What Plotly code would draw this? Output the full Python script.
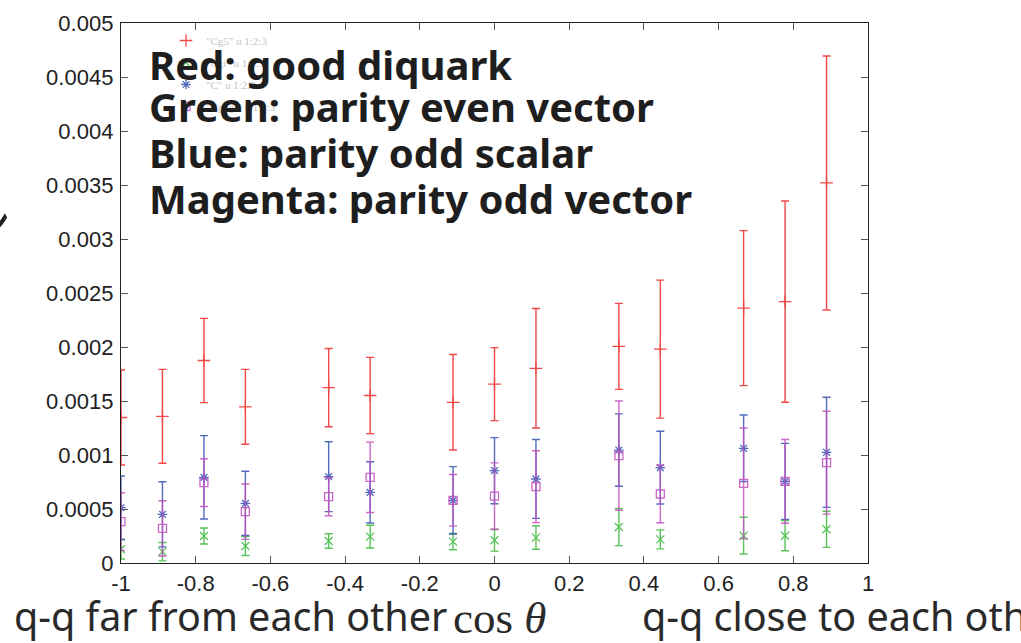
import plotly.graph_objects as go

# ---- data -------------------------------------------------------------
cos_theta = [-1.0, -0.889, -0.778, -0.667, -0.444, -0.333, -0.111,
             0.0, 0.111, 0.333, 0.444, 0.667, 0.778, 0.889]

good_diquark = [0.001347, 0.001358, 0.001875, 0.001446, 0.001624, 0.001551, 0.001488,
                0.001656, 0.001803, 0.002006, 0.001980, 0.002360, 0.002420, 0.003519]
good_diquark_err = [0.000440, 0.000435, 0.000390, 0.000347, 0.000362, 0.000353, 0.000442,
                    0.000338, 0.000553, 0.000398, 0.000639, 0.000718, 0.000932, 0.001176]

even_vector = [0.000127, 0.000105, 0.000250, 0.000157, 0.000204, 0.000244, 0.000198,
               0.000210, 0.000235, 0.000333, 0.000219, 0.000253, 0.000253, 0.000312]
even_vector_err = [0.000090, 0.000085, 0.000074, 0.000088, 0.000067, 0.000105, 0.000075,
                   0.000100, 0.000108, 0.000172, 0.000088, 0.000170, 0.000139, 0.000167]

odd_scalar = [0.000512, 0.000451, 0.000793, 0.000552, 0.000799, 0.000654, 0.000580,
              0.000855, 0.000778, 0.001046, 0.000883, 0.001062, 0.000756, 0.001025]
odd_scalar_err = [0.000294, 0.000302, 0.000386, 0.000297, 0.000323, 0.000283, 0.000312,
                  0.000306, 0.000365, 0.000335, 0.000337, 0.000308, 0.000352, 0.000510]

odd_vector = [0.000383, 0.000321, 0.000744, 0.000475, 0.000614, 0.000793, 0.000580,
              0.000620, 0.000707, 0.000994, 0.000639, 0.000738, 0.000756, 0.000929]
odd_vector_err = [0.000267, 0.000256, 0.000221, 0.000256, 0.000176, 0.000326, 0.000239,
                  0.000307, 0.000333, 0.000506, 0.000266, 0.000512, 0.000388, 0.000476]

legend_names = ['"Cg5" u 1:2:3', '"Cgi" u 1:2:3', '"C" u 1:2:3', '"Cg5gi" u 1:2:3']

x_tick_vals = [-1, -0.8, -0.6, -0.4, -0.2, 0, 0.2, 0.4, 0.6, 0.8, 1]
x_tick_text = ["-1", "-0.8", "-0.6", "-0.4", "-0.2", "0", "0.2", "0.4", "0.6", "0.8", "1"]
y_tick_vals = [0, 0.0005, 0.001, 0.0015, 0.002, 0.0025, 0.003, 0.0035, 0.004, 0.0045, 0.005]
y_tick_text = ["0", "0.0005", "0.001", "0.0015", "0.002", "0.0025", "0.003",
               "0.0035", "0.004", "0.0045", "0.005"]

overlay_lines = ["Red: good diquark", "Green: parity even vector",
                 "Blue: parity odd scalar", "Magenta: parity odd vector"]

# ---- figure -----------------------------------------------------------
W, H = 1021, 643
L, T = 121, 23
PW, PH = 747, 540
R, B = W - L - PW, H - T - PH


def px(xw):  # window x pixel -> paper fraction
    return (xw - L) / PW


def py(yw):  # window y pixel -> paper fraction
    return (T + PH - yw) / PH


series = [
    (good_diquark, good_diquark_err, "#f02828", "cross-thin", 9, legend_names[0]),
    (even_vector, even_vector_err, "#3cb93c", "x-thin", 8, legend_names[1]),
    (odd_scalar, odd_scalar_err, "#3552b5", "asterisk", 8, legend_names[2]),
    (odd_vector, odd_vector_err, "#c24fc0", "square-open", 8, legend_names[3]),
]

fig = go.Figure()
for i, (vals, errs, col, sym, size, name) in enumerate(series):
    fig.add_trace(go.Scatter(
        x=cos_theta, y=vals, mode="markers", name=name, legendgroup=f"g{i}",
        marker=dict(symbol=sym, size=size, color=col, line=dict(color=col, width=1.3)),
        error_y=dict(type="data", array=errs, visible=True, color=col,
                     thickness=1.4, width=4),
        opacity=0.85,
    ))

fig.update_layout(
    width=W, height=H,
    margin=dict(l=L, r=R, t=T, b=B, autoexpand=False),
    paper_bgcolor="white", plot_bgcolor="white",
    showlegend=True,
    legend=dict(x=px(166), y=py(26), xanchor="left", yanchor="top",
                bgcolor="rgba(0,0,0,0)", itemwidth=30,
                font=dict(family="Liberation Serif", size=11, color="#c4c4c4"),
                tracegroupgap=3),
    xaxis=dict(range=[-1, 1], tickvals=x_tick_vals, ticktext=x_tick_text,
               ticks="inside", ticklen=7, tickcolor="#555", tickwidth=1.2,
               showline=True, linecolor="#222", linewidth=1.4, mirror="allticks",
               showgrid=False, zeroline=False, automargin=False,
               tickfont=dict(family="Liberation Sans", size=22, color="#222")),
    yaxis=dict(range=[0, 0.005], tickvals=y_tick_vals, ticktext=y_tick_text,
               ticks="inside", ticklen=7, tickcolor="#555", tickwidth=1.2,
               showline=True, linecolor="#222", linewidth=1.4, mirror="allticks",
               showgrid=False, zeroline=False, ticklabelstandoff=2, automargin=False,
               tickfont=dict(family="Liberation Sans", size=22, color="#222")),
)

baselines = [79, 121, 167, 213]
for text, yb in zip(overlay_lines, baselines):
    fig.add_annotation(text=text, xref="paper", yref="paper",
                       x=px(147), y=py(yb + 15), xanchor="left", yanchor="bottom",
                       showarrow=False,
                       font=dict(family="Noto Sans", size=40, color="#1e1e1e", weight="bold"))

fig.add_annotation(text="q-q far from each other", xref="paper", yref="paper",
                   x=px(12), y=py(645), xanchor="left", yanchor="bottom",
                   showarrow=False,
                   font=dict(family="Noto Sans", size=39.5, color="#2a2a2a"))
fig.add_annotation(text="cos <i>θ</i>", xref="paper", yref="paper",
                   x=px(451), y=py(645), xanchor="left", yanchor="bottom",
                   showarrow=False,
                   font=dict(family="Liberation Serif", size=45, color="#2a2a2a"))
fig.add_annotation(text="q-q close to each other", xref="paper", yref="paper",
                   x=px(640), y=py(645), xanchor="left", yanchor="bottom",
                   showarrow=False,
                   font=dict(family="Noto Sans", size=39.5, color="#2a2a2a"))
fig.add_annotation(text="ン", xref="paper", yref="paper",
                   x=px(13), y=py(220), xanchor="right", yanchor="middle",
                   showarrow=False,
                   font=dict(family="Noto Sans CJK JP", size=50, color="#222"))

fig.write_html("out.html", config={"displayModeBar": False},
               post_script="document.body.style.margin='0';")
